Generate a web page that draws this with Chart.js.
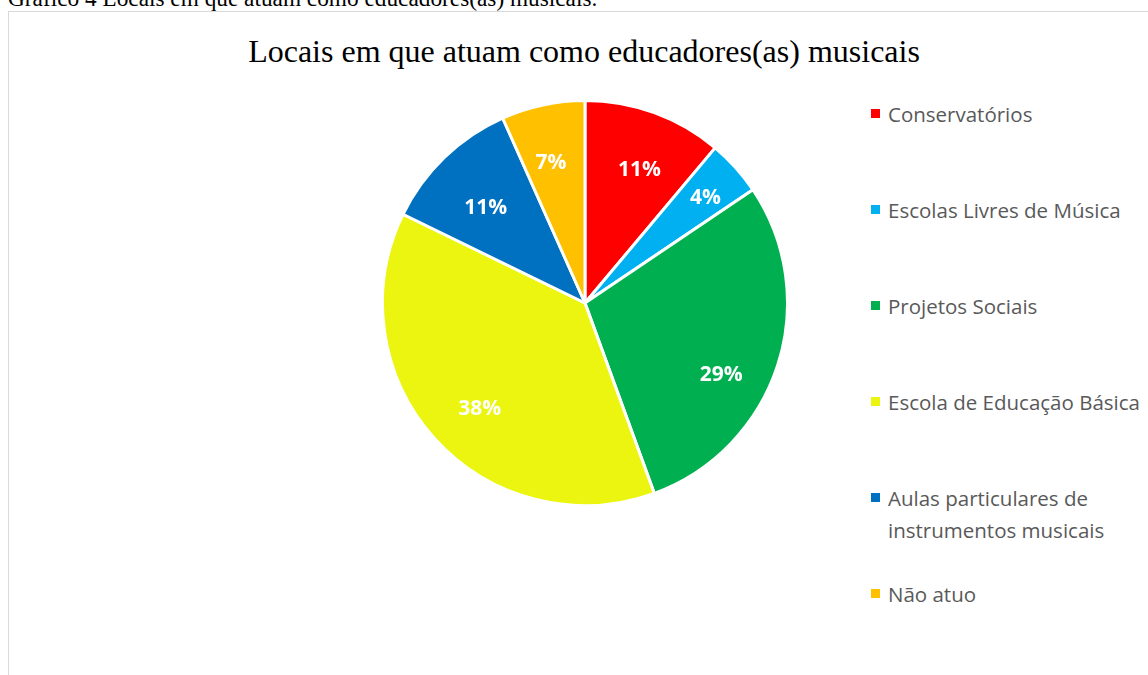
<!DOCTYPE html>
<html>
<head>
<meta charset="utf-8">
<script src="https://cdn.jsdelivr.net/npm/chart.js@4.4.0/dist/chart.umd.min.js"></script>
<style>
  html, body { margin: 0; padding: 0; background: #fff; overflow: hidden; }
  body { width: 1148px; height: 675px; position: relative; }
  #caption {
    position: absolute; left: 8px; top: -17px;
    font-family: "Liberation Serif", "Times New Roman", serif;
    font-size: 23.3px; line-height: 30px; color: #000; white-space: nowrap;
  }
  #frame {
    position: absolute; left: 8px; top: 11px; width: 1150px; height: 700px;
    border: 1.5px solid #d9d9d9; box-sizing: border-box;
  }
  #title {
    position: absolute; left: 0; width: 1168px; top: 33px; text-align: center;
    font-family: "Liberation Serif", "Times New Roman", serif;
    font-size: 32px; line-height: 36px; color: #000; white-space: nowrap;
  }
  #chartBox { position: absolute; left: 381px; top: 99px; width: 408px; height: 408px; }
  #legend {
    position: absolute; left: 871px; top: 0;
    font-family: "Open Sans", "Noto Sans", sans-serif;
    font-size: 20.5px; line-height: 32px; color: #595959;
  }
  .item { position: absolute; left: 0; white-space: pre; }
  .item span.box {
    position: absolute; left: 0; top: 11px; width: 9px; height: 9px;
  }
  .item span.txt { position: absolute; left: 17px; top: 0; }
</style>
</head>
<body>
<div id="caption">Gráfico 4 Locais em que atuam como educadores(as) musicais.</div>
<div id="frame"></div>
<div id="title">Locais em que atuam como educadores(as) musicais</div>
<div id="chartBox"><canvas id="pie"></canvas></div>
<div id="legend"></div>

<script>
const labels = [
    "Conservatórios",
    "Escolas Livres de Música",
    "Projetos Sociais",
    "Escola de Educação Básica",
    "Aulas particulares de\ninstrumentos musicais",
    "Não atuo"
];
const counts = [5, 2, 13, 17, 5, 3];
const colors = ["#ff0000", "#00b0f0", "#00b050", "#ebf50f", "#0070c0", "#ffc000"];

// html legend, one row every 96px
const legend = document.getElementById("legend");
labels.forEach((label, i) => {
    const item = document.createElement("div");
    item.className = "item";
    item.style.top = (98 + i * 96) + "px";
    item.innerHTML = `<span class="box" style="background:${colors[i]}"></span><span class="txt"></span>`;
    item.querySelector(".txt").textContent = label;
    legend.appendChild(item);
});

// percent labels inside the slices (small nudges to sit like the original "best fit")
const labelShiftDeg = [2.3, 0.8, 9.7, -3.3, -2.2, -1.7];
const labelRadius = [0.71, 0.79, 0.76, 0.74, 0.68, 0.71];

const pctLabels = {
    id: "pctLabels",
    afterDatasetsDraw(chart) {
        const ctx = chart.ctx;
        const meta = chart.getDatasetMeta(0);
        const total = counts.reduce((a, b) => a + b, 0);
        ctx.save();
        ctx.font = "bold 21px 'Open Sans', 'Noto Sans', sans-serif";
        ctx.fillStyle = "#ffffff";
        ctx.textAlign = "center";
        ctx.textBaseline = "middle";
        meta.data.forEach((arc, i) => {
            const mid = (arc.startAngle + arc.endAngle) / 2 + labelShiftDeg[i] * Math.PI / 180;
            const r = arc.outerRadius * labelRadius[i];
            const x = arc.x + Math.cos(mid) * r;
            const y = arc.y + Math.sin(mid) * r;
            ctx.fillText(Math.round(counts[i] / total * 100) + "%", x, y);
        });
        ctx.restore();
    }
};

new Chart(document.getElementById("pie").getContext("2d"), {
    type: "pie",
    data: {
        labels: labels,
        datasets: [{
            data: counts,
            backgroundColor: colors,
            borderColor: "#ffffff",
            borderWidth: 3
        }]
    },
    options: {
        responsive: true,
        maintainAspectRatio: false,
        animation: false,
        layout: { padding: 0 },
        plugins: {
            legend: { display: false },
            tooltip: { enabled: false }
        }
    },
    plugins: [pctLabels]
});
</script>
</body>
</html>
